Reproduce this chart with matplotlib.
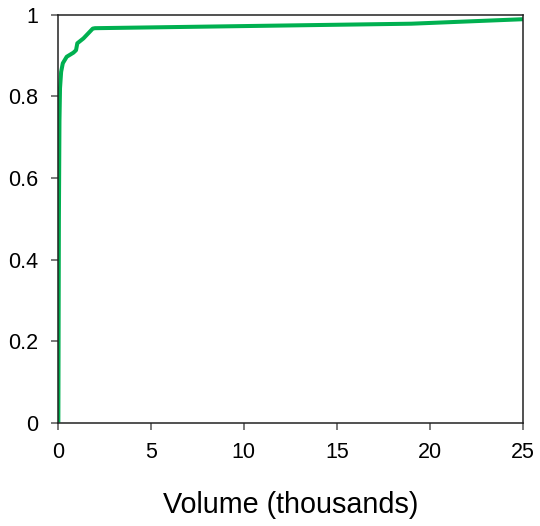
import matplotlib
matplotlib.use('Agg')
import matplotlib.pyplot as plt

plt.rcParams['font.family'] = ['Liberation Sans', 'DejaVu Sans']

# Cumulative curve (volume in thousands, fraction)
volume = [0.03, 0.06, 0.09, 0.12, 0.18, 0.27, 0.48, 0.84, 0.98, 1.05,
          1.38, 1.88, 2.0, 19.0, 25.0]
fraction = [0.0, 0.50, 0.74, 0.82, 0.86, 0.881, 0.897, 0.907, 0.913, 0.930,
            0.942, 0.966, 0.967, 0.978, 0.989]

x_ticks = [0, 5, 10, 15, 20, 25]
y_ticks = [0, 0.2, 0.4, 0.6, 0.8, 1]
y_tick_labels = ['0', '0.2', '0.4', '0.6', '0.8', '1']

fig = plt.figure(figsize=(5.4, 5.26), dpi=100)
ax = fig.add_axes([0.107, 0.1964, 0.8615, 0.7756])

ax.plot(volume, fraction, color='#00B050', linewidth=2.9,
        solid_joinstyle='round', solid_capstyle='butt')

ax.set_xlim(0, 25)
ax.set_ylim(0, 1)
ax.set_xticks(x_ticks)
ax.set_yticks(y_ticks)
ax.set_yticklabels(y_tick_labels)
ax.tick_params(axis='both', direction='out', length=5, width=1.1,
               color='#555555', labelsize=15.5)
ax.tick_params(axis='x', pad=9)
ax.tick_params(axis='y', pad=9)

for s in ax.spines.values():
    s.set_linewidth(1.1)
    s.set_color('#222222')

ax.set_xlabel('Volume (thousands)', fontsize=20.7, labelpad=20)

fig.savefig('out.png', dpi=100)
